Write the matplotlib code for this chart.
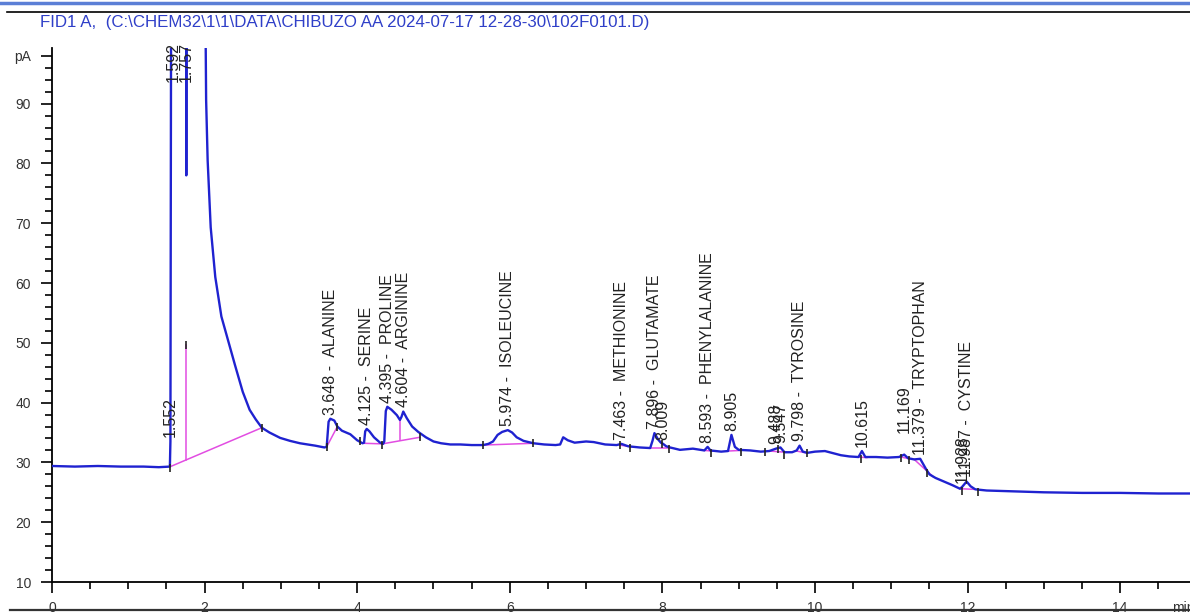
import matplotlib.pyplot as plt
from matplotlib.lines import Line2D
from matplotlib.ticker import FixedLocator, MultipleLocator

plt.rcParams['font.family'] = ['Liberation Sans', 'DejaVu Sans']

run_title = r"FID1 A,  (C:\CHEM32\1\1\DATA\CHIBUZO AA 2024-07-17 12-28-30\102F0101.D)"

# FID signal, retention time (min) vs detector current (pA); 140 = off scale
time_min = [
    0.00, 0.30, 0.60, 0.90, 1.20, 1.40, 1.545, 1.552, 1.565, 1.592, 1.750, 1.757, 1.760,
    1.764, 1.99, 2.02, 2.04, 2.08, 2.14, 2.22, 2.31, 2.40, 2.50, 2.59, 2.67, 2.75, 2.85,
    2.99, 3.12, 3.25, 3.45, 3.57,
    3.60, 3.625, 3.648, 3.70, 3.74, 3.80, 3.91, 4.00, 4.07,
    4.09, 4.105, 4.125, 4.16, 4.22, 4.30, 4.34,
    4.355, 4.375, 4.395, 4.45, 4.52, 4.56, 4.58, 4.604, 4.65, 4.72, 4.80, 4.90, 5.00,
    5.10, 5.22, 5.35, 5.50, 5.65,
    5.72, 5.78, 5.84, 5.90, 5.974, 6.03, 6.09, 6.18, 6.31, 6.45, 6.60, 6.66,
    6.70, 6.76, 6.85, 7.00, 7.10, 7.25, 7.40, 7.463, 7.55, 7.70, 7.84, 7.87,
    7.896, 7.94, 7.98, 8.009, 8.05, 8.10, 8.23, 8.40, 8.55, 8.593, 8.63, 8.77, 8.86,
    8.905, 8.95, 9.00, 9.15, 9.29, 9.40, 9.488, 9.547, 9.60, 9.70, 9.76,
    9.798, 9.84, 9.90, 10.00, 10.13, 10.25, 10.34, 10.45, 10.57, 10.615, 10.66,
    10.80, 10.95, 11.10, 11.169, 11.22, 11.30, 11.379, 11.45, 11.50, 11.58, 11.71,
    11.80, 11.90, 11.928, 11.987, 12.04, 12.10, 12.25, 12.50, 13.00, 13.50, 14.00,
    14.50, 14.95,
]
signal_pa = [
    29.4, 29.3, 29.4, 29.3, 29.3, 29.2, 29.3, 33.5, 140, 140, 140, 140, 78.0,
    140, 140, 90.6, 80.5, 69.3, 61.0, 54.4, 50.3, 46.2, 41.8, 38.8, 37.2, 35.8, 35.0,
    34.1, 33.6, 33.2, 32.8, 32.5,
    32.6, 36.8, 37.3, 37.0, 36.0, 35.3, 34.7, 33.7, 33.2,
    33.3, 35.2, 35.6, 35.2, 34.2, 33.3, 33.1,
    33.5, 38.6, 39.3, 38.8, 37.9, 37.1, 37.6, 38.5, 37.4, 36.0, 35.1, 34.2, 33.5,
    33.2, 33.0, 33.0, 32.9, 32.9,
    33.1, 33.5, 34.6, 35.1, 35.4, 35.0, 34.2, 33.6, 33.2, 33.0, 32.9, 33.0,
    34.2, 33.7, 33.3, 33.5, 33.4, 33.0, 32.9, 33.1, 32.7, 32.5, 32.4, 33.6,
    34.9, 33.9, 33.3, 33.1, 32.7, 32.5, 32.1, 32.3, 32.0, 32.6, 32.0, 31.8, 31.9,
    34.6, 32.6, 32.1, 32.0, 31.8, 31.9, 32.3, 32.5, 31.7, 31.7, 32.0,
    32.8, 31.8, 31.6, 31.8, 31.9, 31.5, 31.2, 31.0, 30.9, 31.9, 30.9,
    30.9, 30.8, 30.9, 31.3, 30.7, 30.5, 30.6, 29.0, 28.0, 27.4, 26.7,
    26.2, 25.6, 25.9, 26.8, 26.0, 25.5, 25.3, 25.2, 25.0, 24.9, 24.9,
    24.8, 24.8,
]

# integrated peaks
peak_rt = [1.552, 1.592, 1.757, 3.648, 4.125, 4.395, 4.604, 5.974, 7.463, 7.896,
           8.009, 8.593, 8.905, 9.488, 9.547, 9.798, 10.615, 11.169, 11.379,
           11.928, 11.987]
peak_name = ["", "", "", "ALANINE", "SERINE", "PROLINE", "ARGININE", "ISOLEUCINE",
             "METHIONINE", "GLUTAMATE", "", "PHENYLALANINE", "", "", "", "TYROSINE",
             "", "", "TRYPTOPHAN", "", "CYSTINE"]

# integration baselines: (start min, start pA, end min, end pA)
baselines = [
    (1.552, 29.3, 2.75, 35.8), (1.757, 30.35, 1.757, 49.6),
    (3.60, 32.6, 3.74, 36.0), (4.08, 33.2, 4.33, 33.1), (4.33, 33.1, 4.82, 34.2),
    (4.56, 33.7, 4.56, 37.1), (5.65, 32.9, 6.31, 33.2),
    (7.44, 32.9, 7.60, 32.6), (7.84, 32.4, 8.10, 32.4), (8.55, 32.0, 8.66, 31.9),
    (8.86, 31.9, 9.02, 32.0), (9.40, 31.9, 9.62, 31.7), (9.76, 31.9, 9.88, 31.6),
    (10.57, 30.9, 10.68, 30.8), (11.13, 30.9, 11.24, 30.6), (11.30, 30.5, 11.55, 27.6),
    (11.90, 25.6, 12.08, 25.5),
]

# peak start / end markers
mark_min = [1.552, 1.757, 2.75, 3.60, 3.74, 4.04, 4.33, 4.82, 5.65, 6.31, 7.44, 7.58,
            7.99, 8.09, 8.64, 9.03, 9.35, 9.52, 9.60, 9.89, 10.60, 11.13, 11.23,
            11.47, 11.93, 12.13]
mark_pa = [29.0, 49.6, 35.8, 32.6, 36.0, 33.5, 32.9, 34.2, 32.9, 33.2, 32.9, 32.4,
           33.0, 32.3, 31.6, 31.8, 31.8, 32.2, 31.3, 31.5, 30.6, 30.8, 30.4,
           28.3, 25.3, 25.1]

TRACE = '#1f22d0'
PINK = '#e24de2'
INK = '#222222'
Y_TOP = 99.3

fig = plt.figure(figsize=(11.9, 6.12), dpi=100)
ax = fig.add_axes([52 / 1190, 30 / 612, 1138 / 1190, 534 / 612])

ax.plot(time_min, signal_pa, color=TRACE, lw=1.7, solid_joinstyle='round', zorder=3)
for t0, v0, t1, v1 in baselines:
    ax.plot([t0, t1], [v0, v1], color=PINK, lw=1.1, zorder=2)
ax.plot(mark_min, mark_pa, ls='none', marker='|', ms=6, mew=1.2, color=INK, zorder=4)

# peak labels sit just above the apex; off-scale ones hang from the top
lift = {11.169: 2.9}
for rt, name in zip(peak_rt, peak_name):
    apex = signal_pa[time_min.index(rt)]
    label = f"{rt:.3f}" + (f" -  {name}" if name else "")
    if apex > Y_TOP:
        ax.text(rt, Y_TOP + 1.0, label, rotation=90, ha='center', va='top',
                fontsize=11.5, color=INK, clip_on=False)
    else:
        ax.text(rt, apex + 0.7 + lift.get(rt, 0), label, rotation=90, ha='center',
                va='bottom', fontsize=11.5, color=INK, clip_on=False)

ax.set_xlim(0, 14.915)
ax.set_ylim(10, Y_TOP)
for side in ('top', 'right'):
    ax.spines[side].set_visible(False)
for side in ('left', 'bottom'):
    ax.spines[side].set_linewidth(1.3)

ax.set_xticks(range(0, 15, 2))
ax.xaxis.set_minor_locator(MultipleLocator(0.5))
ax.set_yticks(list(range(10, 100, 10)) + [98])
ax.set_yticklabels([str(v) for v in range(10, 100, 10)] + ['pA'])
ax.yaxis.set_minor_locator(FixedLocator([v for v in range(12, 98, 2) if v % 10]))
ax.tick_params(which='major', length=8, width=1.2, labelsize=10, labelcolor='#333333')
ax.tick_params(which='minor', length=5, width=1.2)
ax.tick_params(axis='x', pad=6)
ax.tick_params(axis='y', pad=7)
ax.text(14.68, -0.035, "min", transform=ax.get_xaxis_transform(), ha='left', va='top',
        fontsize=10, color='#333333', clip_on=False)

fig.text(40 / 1190, 1 - 22 / 612, run_title, color='#2f3fc8', fontsize=12.2,
         ha='left', va='center')
fig.add_artist(Line2D([0, 1], [1 - 3 / 612] * 2, color='#5b7fd6', lw=2.5))
fig.add_artist(Line2D([7 / 1190, 1], [1 - 12 / 612] * 2, color='black', lw=1.2))
fig.add_artist(Line2D([10 / 1190, 1], [1 - 610 / 612] * 2, color='#333333', lw=1.6,
                      zorder=10))

fig.savefig("out.png", dpi=100)
